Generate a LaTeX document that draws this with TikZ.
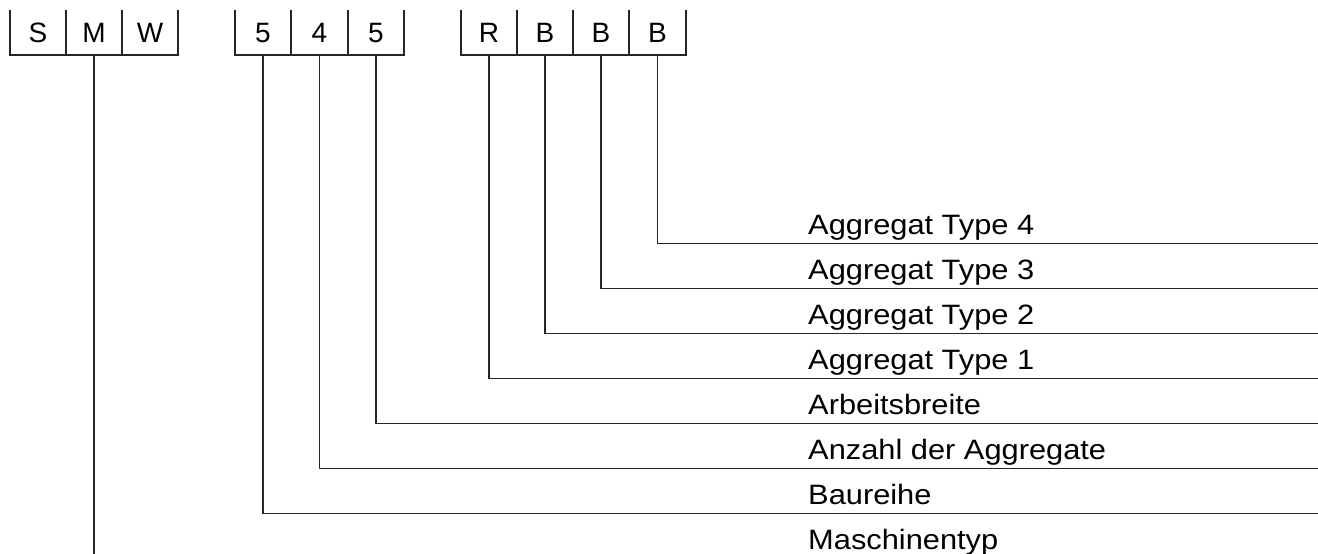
\documentclass[tikz,border=0pt]{standalone}
\usepackage{fontspec}
\setmainfont{Liberation Sans}
\begin{document}
\begin{tikzpicture}[x=1pt,y=-1pt,
  ln/.style={line width=1.3pt,black!85},
  letter/.style={minimum width=56pt,minimum height=45pt,inner sep=0pt,text height=20pt,text depth=0pt,font=\fontsize{28}{32}\selectfont},
  lbl/.style={anchor=base west,inner sep=0pt,font=\fontsize{28}{32}\selectfont,xscale=1.1}]
\useasboundingbox (0,0) rectangle (1318,554);
% letter boxes
\node[letter] (S) at (38,32.5) {S};
\node[letter] (M) at (94,32.5) {M};
\node[letter] (W) at (150,32.5) {W};
\node[letter] (D1) at (263,32.5) {5};
\node[letter] (D2) at (319.5,32.5) {4};
\node[letter] (D3) at (376,32.5) {5};
\node[letter] (R) at (489,32.5) {R};
\node[letter] (B1) at (545,32.5) {B};
\node[letter] (B2) at (601,32.5) {B};
\node[letter] (B3) at (657.5,32.5) {B};
% frames
\draw[ln] (10,10) -- (10,55) -- (178,55) -- (178,10);
\draw[ln] (66,10) -- (66,55) (122,10) -- (122,55);
\draw[ln] (235,10) -- (235,55) -- (404,55) -- (404,10);
\draw[ln] (291,10) -- (291,55) (348,10) -- (348,55);
\draw[ln] (461,10) -- (461,55) -- (686,55) -- (686,10);
\draw[ln] (517,10) -- (517,55) (573,10) -- (573,55) (629,10) -- (629,55);
% right ends
\coordinate (e4) at (1320,243.5);
\coordinate (e3) at (1320,288.5);
\coordinate (e2) at (1320,333.5);
\coordinate (e1) at (1320,378.5);
\coordinate (eA) at (1320,423.5);
\coordinate (eN) at (1320,468.5);
\coordinate (eB) at (1320,513.5);
\coordinate (eM) at (1320,558.5);
% labels
\node[lbl] (l4) at (808,234.5) {Aggregat Type 4};
\node[lbl] (l3) at (808,279.5) {Aggregat Type 3};
\node[lbl] (l2) at (808,324.5) {Aggregat Type 2};
\node[lbl] (l1) at (808,369.5) {Aggregat Type 1};
\node[lbl] (lA) at (808,414.5) {Arbeitsbreite};
\node[lbl] (lN) at (808,459.5) {Anzahl der Aggregate};
\node[lbl] (lB) at (808,504.5) {Baureihe};
\node[lbl] (lM) at (808,549.5) {Maschinentyp};
% connectors
\draw[ln] (B3.south) |- (e4);
\draw[ln] (B2.south) |- (e3);
\draw[ln] (B1.south) |- (e2);
\draw[ln] (R.south) |- (e1);
\draw[ln] (D3.south) |- (eA);
\draw[ln] (D2.south) |- (eN);
\draw[ln] (D1.south) |- (eB);
\draw[ln] (M.south) |- (eM);
\end{tikzpicture}
\end{document}
